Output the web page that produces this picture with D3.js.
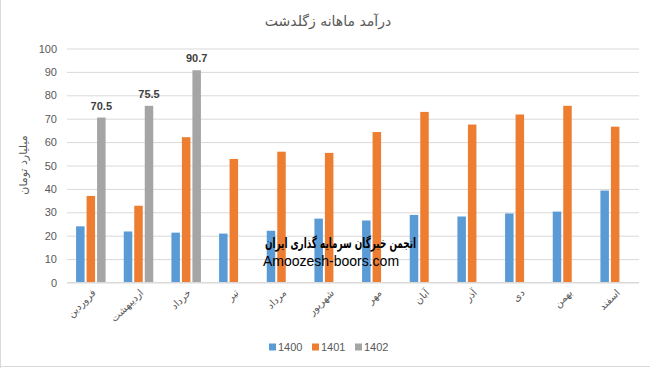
<!DOCTYPE html>
<html>
<head>
<meta charset="utf-8">
<script src="https://cdn.jsdelivr.net/npm/d3@7"></script>
<style>
  html, body { margin: 0; padding: 0; background: #fff; }
  svg { display: block; }
</style>
</head>
<body>
<svg id="chart" width="650" height="368"></svg>
<script>
const months = ["فروردین","اردیبهشت","خرداد","تیر","مرداد","شهریور","مهر","آبان","آذر","دی","بهمن","اسفند"];
const seriesNames = ["1400","1401","1402"];
const values1400 = [24, 21.8, 21.3, 20.9, 22.1, 27.3, 26.5, 28.9, 28.2, 29.5, 30.3, 39.3];
const values1401 = [37, 32.8, 62.1, 52.8, 55.9, 55.4, 64.3, 72.9, 67.5, 71.8, 75.5, 66.6];
const values1402 = [70.5, 75.5, 90.7, null, null, null, null, null, null, null, null, null];
const yTicks = [0,10,20,30,40,50,60,70,80,90,100];
const colors = ["#5b9bd5","#ed7d31","#a5a5a5"];
const title = "درآمد ماهانه زگلدشت";
const yTitle = "میلیارد تومان";
const watermark1 = "انجمن خبرگان سرمایه گذاری ایران";
const watermark2 = "Amoozesh-boors.com";

const svg = d3.select("#chart");
const persianFont = "'DejaVu Sans', sans-serif";
const latinFont = "'Liberation Sans', Arial, sans-serif";
const textColor = "#595959";

// chart border (left and bottom visible)
svg.append("line").attr("x1",0.5).attr("x2",0.5).attr("y1",0).attr("y2",368).attr("stroke","#d9d9d9");
svg.append("line").attr("x1",0).attr("x2",650).attr("y1",366.5).attr("y2",366.5).attr("stroke","#d9d9d9");

const left = 67, right = 639;
const y = d3.scaleLinear().domain([0,100]).range([282.5, 48.5]);
const x0 = d3.scaleBand().domain(months).range([left, right]).padding(0);
const groupW = 29.5;
const x1 = d3.scaleBand().domain(seriesNames)
  .range([(x0.bandwidth()-groupW)/2, (x0.bandwidth()+groupW)/2])
  .paddingInner(0.19).paddingOuter(0);

// gridlines
const yAxis = d3.axisLeft(y).tickValues(yTicks).tickSize(-(right-left)).tickPadding(10);
const gAxis = svg.append("g").attr("transform", `translate(${left},0)`).call(yAxis);
gAxis.select(".domain").remove();
gAxis.selectAll(".tick line").attr("stroke","#d9d9d9").attr("stroke-width",1);
gAxis.selectAll(".tick text").attr("fill",textColor).style("font-family",latinFont).style("font-size","11px");

// bars
const seriesData = [values1400, values1401, values1402];
seriesData.forEach((vals, si) => {
  svg.append("g").selectAll("rect")
    .data(months.map((m,i)=>({m, v: vals[i]})).filter(d=>d.v!=null))
    .enter().append("rect")
    .attr("x", d => x0(d.m) + x1(seriesNames[si]))
    .attr("width", x1.bandwidth())
    .attr("y", d => y(d.v))
    .attr("height", d => y(0) - y(d.v))
    .attr("fill", colors[si]);
});

// data labels for 1402
svg.append("g").selectAll("text")
  .data(months.map((m,i)=>({m, v: values1402[i]})).filter(d=>d.v!=null))
  .enter().append("text")
  .attr("x", d => x0(d.m) + x1("1402") + x1.bandwidth()/2)
  .attr("y", d => y(d.v) - 8)
  .attr("text-anchor","middle")
  .style("font-family",latinFont).style("font-size","11px").style("font-weight","bold")
  .attr("fill","#404040")
  .text(d => d3.format(".1f")(d.v));

// x axis baseline
svg.append("line").attr("x1",left).attr("x2",right).attr("y1",y(0)).attr("y2",y(0)).attr("stroke","#d9d9d9");

// category labels
svg.append("g").selectAll("text")
  .data(months).enter().append("text")
  .attr("transform", d => `translate(${x0(d)+x0.bandwidth()/2+3},${291}) rotate(-45)`)
  .attr("text-anchor","end")
  .attr("dy","0.35em")
  .style("font-family",persianFont).style("font-size","10px")
  .attr("fill",textColor)
  .text(d=>d);

// title
svg.append("text").attr("x",328).attr("y",26).attr("text-anchor","middle")
  .style("font-family",persianFont).style("font-size","14px").attr("fill",textColor).text(title);

// y title
svg.append("text").attr("transform","translate(27,165) rotate(-90)").attr("text-anchor","middle")
  .style("font-family",persianFont).style("font-size","11px").attr("fill",textColor).text(yTitle);

// legend
const legend = svg.append("g");
const legX = [269, 312, 355];
seriesNames.forEach((s,i)=>{
  legend.append("rect").attr("x",legX[i]).attr("y",343.5).attr("width",7).attr("height",7).attr("fill",colors[i]);
  legend.append("text").attr("x",legX[i]+9).attr("y",347).attr("dy","0.35em")
    .style("font-family",latinFont).style("font-size","11px").attr("fill",textColor).text(s);
});

// watermark
svg.append("text").attr("x",340.5).attr("y",243).attr("dy","0.35em").attr("text-anchor","middle")
  .attr("textLength",151).attr("lengthAdjust","spacingAndGlyphs")
  .style("font-family",persianFont).style("font-size","14px").style("font-weight","bold").attr("fill","#000").text(watermark1);
svg.append("text").attr("x",331).attr("y",261).attr("dy","0.35em").attr("text-anchor","middle")
  .style("font-family",latinFont).style("font-size","14px").attr("fill","#000").text(watermark2);
</script>
</body>
</html>
